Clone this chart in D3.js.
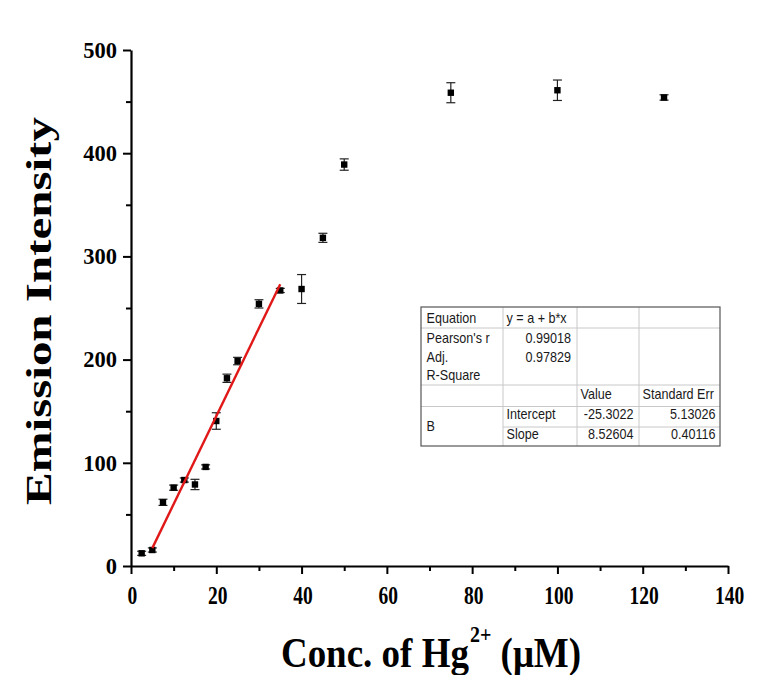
<!DOCTYPE html>
<html>
<head>
<meta charset="utf-8">
<script src="https://cdn.jsdelivr.net/npm/d3@7"></script>
<style>
  html, body { margin: 0; padding: 0; background: #fff; }
  svg { display: block; }
</style>
</head>
<body>
<svg id="chart" width="761" height="675"></svg>
<script>
// ---- data ----
const concentrations = [2.5, 5, 7.5, 10, 12.5, 15, 17.5, 20, 22.5, 25, 30, 35, 40, 45, 50, 75, 100, 125];
const intensities    = [12.3, 15.5, 61.7, 75.9, 83.3, 79, 96, 140.5, 181.9, 198.6, 254, 267, 268.4, 318, 389, 458.6, 461, 454];
const errors         = [2, 2, 3, 2.5, 2, 5, 2, 8, 4, 3.6, 4, 2, 14, 4.4, 5.5, 9.7, 9.9, 2.6];
const fitRange = [5, 35];
const fitIntercept = -25.3022;
const fitSlope = 8.52604;
const xTicks = [0, 20, 40, 60, 80, 100, 120, 140];
const xMinorTicks = [10, 30, 50, 70, 90, 110, 130];
const yTicks = [0, 100, 200, 300, 400, 500];
const yMinorTicks = [50, 150, 250, 350, 450];
const tableRows = [
  ["Equation", "y = a + b*x", "", ""],
  ["Pearson's r", "0.99018", "", ""],
  ["Adj.", "0.97829", "", ""],
  ["R-Square", "", "", ""],
  ["", "", "Value", "Standard Err"],
  ["B", "Intercept", "-25.3022", "5.13026"],
  ["", "Slope", "8.52604", "0.40116"]
];
const xTitle = ["Conc. of Hg", "2+", " (\u03BCM)"];
const yTitle = "Emission Intensity";

// ---- layout ----
const svg = d3.select("#chart");
const serif = "'Liberation Serif','Times New Roman',Times,serif";
const sans = "'Liberation Sans',Arial,Helvetica,sans-serif";

const x = d3.scaleLinear().domain([0, 140]).range([131, 728]);
const y = d3.scaleLinear().domain([0, 500]).range([566, 50]);

// minor ticks
svg.append("g").attr("transform", "translate(0,566)")
  .call(d3.axisBottom(x).tickValues(xMinorTicks).tickSize(5).tickFormat(""))
  .call(g => g.select(".domain").remove())
  .selectAll("line").attr("stroke", "#000").attr("stroke-width", 2);
svg.append("g").attr("transform", "translate(131,0)")
  .call(d3.axisLeft(y).tickValues(yMinorTicks).tickSize(5).tickFormat(""))
  .call(g => g.select(".domain").remove())
  .selectAll("line").attr("stroke", "#000").attr("stroke-width", 2);

// major x axis
const gx = svg.append("g").attr("transform", "translate(0,566)")
  .call(d3.axisBottom(x).tickValues(xTicks).tickSize(8).tickSizeOuter(0).tickFormat(""));
gx.select(".domain").attr("stroke", "#000").attr("stroke-width", 2.2);
gx.selectAll("line").attr("stroke", "#000").attr("stroke-width", 2);

svg.append("g").selectAll("text").data(xTicks).join("text")
  .attr("transform", d => `translate(${x(d) + 1.5},603.5) scale(1,1.3)`)
  .attr("text-anchor", "middle")
  .attr("font-family", serif).attr("font-weight", "bold").attr("font-size", 19.5)
  .attr("fill", "#000")
  .text(d => d);

// major y axis
const gy = svg.append("g").attr("transform", "translate(131,0)")
  .call(d3.axisLeft(y).tickValues(yTicks).tickSize(8).tickSizeOuter(0).tickPadding(6));
gy.select(".domain").attr("stroke", "#000").attr("stroke-width", 2.2);
gy.selectAll("line").attr("stroke", "#000").attr("stroke-width", 2);
gy.selectAll("text").attr("font-family", serif).attr("font-weight", "bold")
  .attr("font-size", 22.5).attr("fill", "#000");

// error bars
const pts = concentrations.map((c, i) => ({c, v: intensities[i], e: errors[i]}));
const eb = svg.append("g").attr("stroke", "#222").attr("stroke-width", 1.2);
eb.selectAll(".v").data(pts).join("line")
  .attr("x1", d => x(d.c)).attr("x2", d => x(d.c))
  .attr("y1", d => y(d.v - d.e)).attr("y2", d => y(d.v + d.e));
eb.selectAll(".t").data(pts).join("line")
  .attr("x1", d => x(d.c) - 4.5).attr("x2", d => x(d.c) + 4.5)
  .attr("y1", d => y(d.v + d.e)).attr("y2", d => y(d.v + d.e));
eb.selectAll(".b").data(pts).join("line")
  .attr("x1", d => x(d.c) - 4.5).attr("x2", d => x(d.c) + 4.5)
  .attr("y1", d => y(d.v - d.e)).attr("y2", d => y(d.v - d.e));

// markers
svg.append("g").selectAll("rect").data(pts).join("rect")
  .attr("x", d => x(d.c) - 3.2).attr("y", d => y(d.v) - 3.2)
  .attr("width", 6.4).attr("height", 6.4).attr("fill", "#000");

// fit line
svg.append("line")
  .attr("x1", x(fitRange[0])).attr("y1", y(fitIntercept + fitSlope * fitRange[0]))
  .attr("x2", x(fitRange[1])).attr("y2", y(fitIntercept + fitSlope * fitRange[1]))
  .attr("stroke", "#e01818").attr("stroke-width", 2.4);

// axis titles
svg.append("text")
  .attr("transform", "translate(51,311) rotate(-90) scale(1.4,1)")
  .attr("text-anchor", "middle")
  .attr("font-family", serif).attr("font-weight", "bold").attr("font-size", 35)
  .attr("fill", "#000")
  .text(yTitle);

const xt = svg.append("text")
  .attr("transform", "translate(431,666.5) scale(1,1.15)")
  .attr("text-anchor", "middle")
  .attr("font-family", serif).attr("font-weight", "bold").attr("font-size", 37)
  .attr("fill", "#000");
xt.append("tspan").text(xTitle[0]);
xt.append("tspan").attr("dy", -21).attr("dx", 1).attr("font-size", 20).text(xTitle[1]);
xt.append("tspan").attr("dy", 21).text(xTitle[2]);

// stats table
const colX = [421, 503, 577, 639, 720];
const rowY = [307, 328, 385, 406.5, 427, 446];
const tb = svg.append("g");
tb.append("rect").attr("x", colX[0]).attr("y", rowY[0])
  .attr("width", colX[4] - colX[0]).attr("height", rowY[5] - rowY[0])
  .attr("fill", "#fff");
const inner = tb.append("g").attr("stroke", "#c8c8c8").attr("stroke-width", 1);
[1, 2, 3].forEach(i => inner.append("line")
  .attr("x1", colX[i]).attr("x2", colX[i]).attr("y1", rowY[0]).attr("y2", rowY[5]));
[1, 2, 3].forEach(i => inner.append("line")
  .attr("x1", colX[0]).attr("x2", colX[4]).attr("y1", rowY[i]).attr("y2", rowY[i]));
inner.append("line").attr("x1", colX[1]).attr("x2", colX[4]).attr("y1", rowY[4]).attr("y2", rowY[4]);
tb.append("rect").attr("x", colX[0]).attr("y", rowY[0])
  .attr("width", colX[4] - colX[0]).attr("height", rowY[5] - rowY[0])
  .attr("fill", "none").attr("stroke", "#555").attr("stroke-width", 1.2);

const baselines = [323.3, 342.5, 362, 379.5, 399.3, 419.3, 438.5];
const cellPos = [
  {x: 426.5, anchor: "start"},
  {x: 506.5, anchor: "start"},
  {x: 580.5, anchor: "start"},
  {x: 642.5, anchor: "start"}
];
const rightPos = [null, 571, 633.5, 715.5];
tableRows.forEach((row, r) => {
  row.forEach((txt, c) => {
    if (!txt) return;
    let bx = cellPos[c].x, anchor = "start", by = baselines[r];
    const numeric = /^-?\d/.test(txt);
    if (numeric) { bx = rightPos[c]; anchor = "end"; }
    if (txt === "B") by = 431;
    tb.append("text")
      .attr("transform", `translate(${bx},${by}) scale(1,1.12)`)
      .attr("text-anchor", anchor)
      .attr("font-family", sans).attr("font-size", 12.6)
      .attr("fill", "#1a1a1a")
      .text(txt);
  });
});
</script>
</body>
</html>
